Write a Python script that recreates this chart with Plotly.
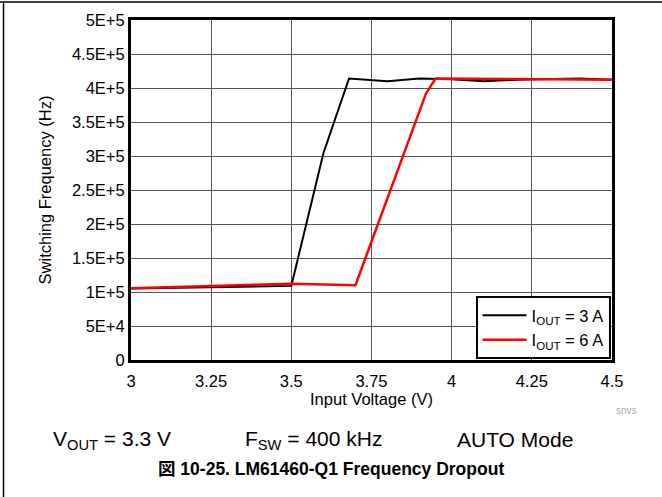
import plotly.graph_objects as go

# Data
vin_3a = [3.0, 3.25, 3.5, 3.6, 3.68, 3.8, 3.9, 4.0, 4.1, 4.2, 4.3, 4.4, 4.5]
fsw_3a = [1.05e5, 1.07e5, 1.09e5, 3.04e5, 4.14e5, 4.10e5, 4.14e5, 4.13e5, 4.10e5, 4.12e5, 4.13e5, 4.14e5, 4.12e5]
vin_6a = [3.0, 3.25, 3.5, 3.7, 3.92, 3.95, 4.1, 4.3, 4.5]
fsw_6a = [1.055e5, 1.085e5, 1.12e5, 1.10e5, 3.92e5, 4.14e5, 4.14e5, 4.13e5, 4.12e5]

x_ticks = [3, 3.25, 3.5, 3.75, 4, 4.25, 4.5]
x_labels = ["3", "3.25", "3.5", "3.75", "4", "4.25", "4.5"]
y_ticks = [0, 5e4, 1e5, 1.5e5, 2e5, 2.5e5, 3e5, 3.5e5, 4e5, 4.5e5, 5e5]
y_labels = ["0", "5E+4", "1E+5", "1.5E+5", "2E+5", "2.5E+5", "3E+5", "3.5E+5", "4E+5", "4.5E+5", "5E+5"]

FONT = "Liberation Sans, Arial, sans-serif"

fig = go.Figure()
fig.add_trace(go.Scatter(x=vin_3a, y=fsw_3a, mode="lines", line=dict(color="black", width=2),
                         name="I<sub>OUT</sub> = 3 A"))
fig.add_trace(go.Scatter(x=vin_6a, y=fsw_6a, mode="lines", line=dict(color="#ff0000", width=2.5),
                         name="I<sub>OUT</sub> = 6 A"))

fig.update_layout(
    width=662, height=497,
    margin=dict(l=131, r=50, t=20, b=137),
    paper_bgcolor="white", plot_bgcolor="white",
    font=dict(family=FONT, size=16.5, color="black"),
    showlegend=True,
    legend=dict(x=0.997, y=0.003, xanchor="right", yanchor="bottom",
                bgcolor="white", bordercolor="black", borderwidth=2,
                font=dict(size=16.5), tracegroupgap=0, itemwidth=44),
)
fig.update_xaxes(range=[3, 4.5], tickvals=x_ticks, ticktext=x_labels,
                 showgrid=True, gridcolor="#555555", gridwidth=1,
                 showline=True, linecolor="black", linewidth=3, mirror=True,
                 ticks="", zeroline=False, tickfont=dict(size=16.5), ticklabelstandoff=4,
                 title=dict(text="Input Voltage (V)", font=dict(size=16.5), standoff=2))
fig.update_yaxes(range=[0, 5e5], tickvals=y_ticks, ticktext=y_labels,
                 showgrid=True, gridcolor="#555555", gridwidth=1,
                 showline=True, linecolor="black", linewidth=3, mirror=True,
                 ticks="", zeroline=False, tickfont=dict(size=16.5),
                 title=dict(text="Switching Frequency (Hz)", font=dict(size=16.5), standoff=17))

def px_x(p):
    return (p - 131) / 481

def px_y(p):
    return (360 - p) / 340

# outer frame lines (top and left)
fig.add_shape(type="line", xref="paper", yref="paper", x0=px_x(0), x1=px_x(662),
              y0=px_y(2), y1=px_y(2), line=dict(color="black", width=1.5))
fig.add_shape(type="line", xref="paper", yref="paper", x0=px_x(3.5), x1=px_x(3.5),
              y0=px_y(2), y1=px_y(497), line=dict(color="black", width=1.5))

fig.add_annotation(text="snvs", xref="paper", yref="paper", x=px_x(626), y=px_y(410),
                   xanchor="center", yanchor="middle",
                   showarrow=False, font=dict(size=10, color="#aaaaaa"))
fig.add_annotation(text="V<sub>OUT</sub> = 3.3 V", xref="paper", yref="paper", x=px_x(51), y=px_y(440),
                   xanchor="left", yanchor="middle", showarrow=False, font=dict(size=21))
fig.add_annotation(text="F<sub>SW</sub> = 400 kHz", xref="paper", yref="paper", x=px_x(243), y=px_y(440),
                   xanchor="left", yanchor="middle", showarrow=False, font=dict(size=21))
fig.add_annotation(text="AUTO Mode", xref="paper", yref="paper", x=px_x(455), y=px_y(439),
                   xanchor="left", yanchor="middle", showarrow=False, font=dict(size=21))
fig.add_annotation(text="<b>図 10-25. LM61460-Q1 Frequency Dropout</b>", xref="paper", yref="paper",
                   x=px_x(331), y=px_y(469), xanchor="center", yanchor="middle", showarrow=False,
                   font=dict(size=17.5, family="Liberation Sans, Noto Sans CJK JP, sans-serif"))

fig.write_html("out.html", config={"displayModeBar": False},
               post_script="document.body.style.margin='0';")
